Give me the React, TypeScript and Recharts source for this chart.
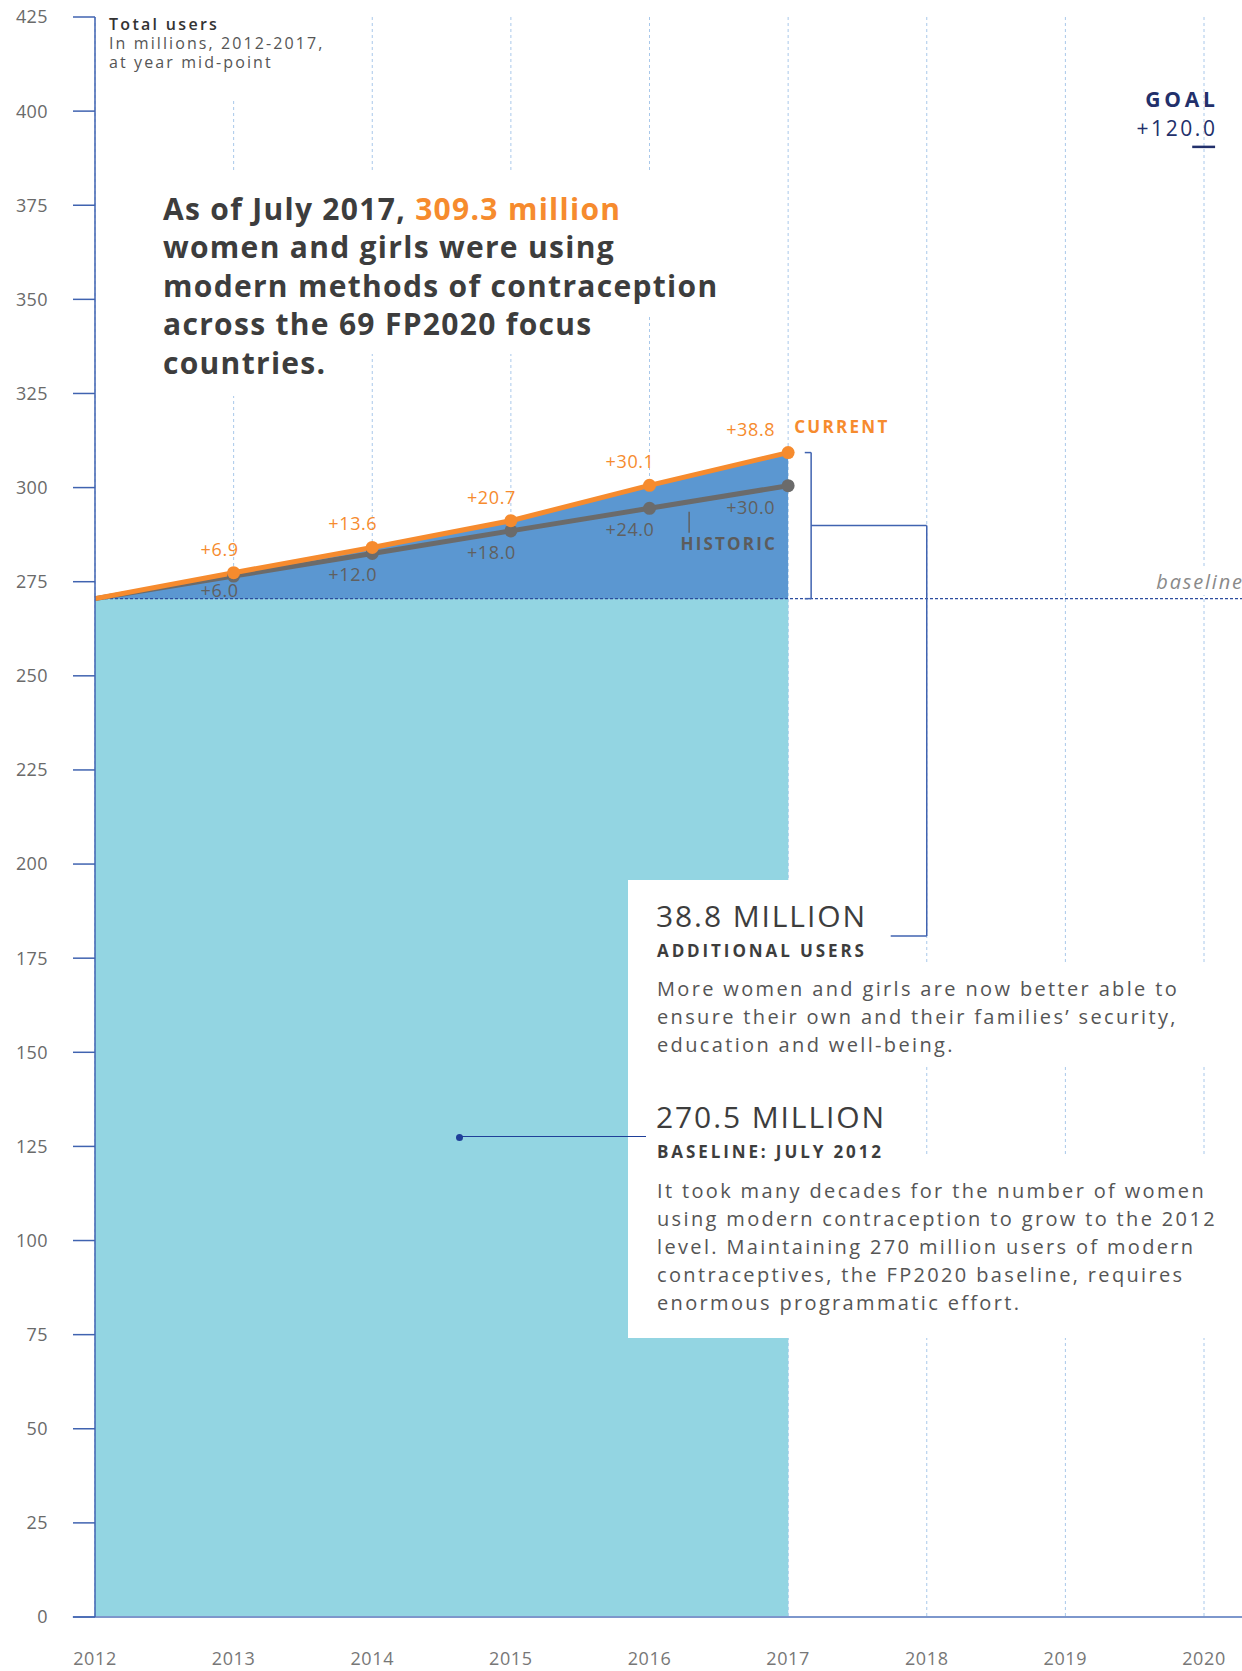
import React from "react";
import {
  ComposedChart,
  Area,
  Line,
  XAxis,
  YAxis,
  CartesianGrid,
  ReferenceLine,
} from "recharts";

const FONT = "'Open Sans', sans-serif";

const YEARS = [2012, 2013, 2014, 2015, 2016, 2017, 2018, 2019, 2020];
const DATA_YEARS = [2012, 2013, 2014, 2015, 2016, 2017];
const BASELINE = 270.5;
const CURRENT_GAIN = [0, 6.9, 13.6, 20.7, 30.1, 38.8];
const HISTORIC_GAIN = [0, 6.0, 12.0, 18.0, 24.0, 30.0];
const GOAL_GAIN = 120.0;
const Y_TICKS = [0, 25, 50, 75, 100, 125, 150, 175, 200, 225, 250, 275, 300, 325, 350, 375, 400, 425];

const CYAN = "#93d5e2";
const BLUE_FILL = "#5b97d1";
const ORANGE = "#f68b2e";
const GRAY = "#6b6b6b";
const AXIS_BLUE = "#4063b0";
const NAVY = "#22306b";
const GRID = "#a9c8ea";
const TEXT = "#3d3d3d";

const data = DATA_YEARS.map((year, i) => ({
  year,
  base: BASELINE,
  current: BASELINE + CURRENT_GAIN[i],
  historic: BASELINE + HISTORIC_GAIN[i],
  currentGain: CURRENT_GAIN[i],
  historicGain: HISTORIC_GAIN[i],
}));

const LAST = data.length - 1;
const fmtGain = (v: number) => `+${v.toFixed(1)}`;

// dot + value label for the current series; "CURRENT" tag on the last point
function CurrentDot(props: any) {
  const { cx, cy, index, payload } = props;
  if (index === 0) return <g key={`c-${index}`} />;
  const last = index === LAST;
  return (
    <g key={`c-${index}`}>
      <circle cx={cx} cy={cy} r={6.5} fill={ORANGE} />
      <text
        x={cx + (last ? -13 : 5)}
        y={cy - 24}
        textAnchor="end"
        dominantBaseline="central"
        fill={ORANGE}
        fontSize={18}
        letterSpacing={0.6}
        fontFamily={FONT}
      >
        {fmtGain(payload.currentGain)}
      </text>
      {last && (
        <text
          x={cx + 6}
          y={cy - 26}
          dominantBaseline="central"
          fill={ORANGE}
          fontSize={17}
          fontWeight={700}
          letterSpacing={2.3}
          fontFamily={FONT}
        >
          CURRENT
        </text>
      )}
    </g>
  );
}

function HistoricDot(props: any) {
  const { cx, cy, index, payload } = props;
  if (index === 0) return <g key={`h-${index}`} />;
  const last = index === LAST;
  return (
    <g key={`h-${index}`}>
      <circle cx={cx} cy={cy} r={6.5} fill={GRAY} />
      <text
        x={cx + (last ? -13 : 5)}
        y={cy + (index === 1 ? 14 : 21)}
        textAnchor="end"
        dominantBaseline="central"
        fill="#606060"
        fontSize={18}
        letterSpacing={0.6}
        fontFamily={FONT}
      >
        {fmtGain(payload.historicGain)}
      </text>
      {last && (
        <g>
          <line x1={cx - 99} x2={cx - 99} y1={cy + 26} y2={cy + 47} stroke="#606060" strokeWidth={1.5} />
          <text
            x={cx - 11}
            y={cy + 58}
            textAnchor="end"
            dominantBaseline="central"
            fill="#5c5c5c"
            fontSize={17}
            fontWeight={700}
            letterSpacing={2.2}
            fontFamily={FONT}
          >
            HISTORIC
          </text>
        </g>
      )}
    </g>
  );
}

const box = (left: number, top: number, extra: React.CSSProperties = {}): React.CSSProperties => ({
  position: "absolute",
  left,
  top,
  fontFamily: FONT,
  ...extra,
});

const HEADLINE = [
  ["As of July 2017, ", "309.3 million"],
  ["women and girls were using"],
  ["modern methods of contraception"],
  ["across the 69 FP2020 focus"],
  ["countries."],
];

const ADDITIONAL_TEXT = [
  "More women and girls are now better able to",
  "ensure their own and their families’ security,",
  "education and well-being.",
];

const BASELINE_TEXT = [
  "It took many decades for the number of women",
  "using modern contraception to grow to the 2012",
  "level. Maintaining 270 million users of modern",
  "contraceptives, the FP2020 baseline, requires",
  "enormous programmatic effort.",
];

export default function App() {
  const currentTop = BASELINE + CURRENT_GAIN[LAST];
  const bracketMid = (currentTop + BASELINE) / 2;
  const line = { stroke: AXIS_BLUE, strokeWidth: 1.5 };

  return (
    <div style={{ position: "absolute", left: 0, top: 0, width: 1242, height: 1671, background: "#fff" }}>
      <ComposedChart width={1242} height={1671} data={data} margin={{ top: 17, right: 38, bottom: 0, left: 0 }}>
        <CartesianGrid horizontal={false} stroke={GRID} strokeDasharray="3 3" />
        <XAxis
          dataKey="year"
          type="number"
          domain={[2012, 2020]}
          ticks={YEARS}
          height={54}
          axisLine={false}
          tickLine={false}
          tickSize={0}
          tickMargin={35}
          tick={{ fill: "#777", fontSize: 18, fontFamily: FONT, letterSpacing: 0.6 }}
        />
        <YAxis
          type="number"
          domain={[0, 425]}
          ticks={Y_TICKS}
          width={95}
          axisLine={{ stroke: AXIS_BLUE, strokeWidth: 1.5 }}
          tickLine={{ stroke: AXIS_BLUE, strokeWidth: 1.5 }}
          tickSize={22}
          tickMargin={25}
          tick={{ fill: "#6a6a6a", fontSize: 18, fontFamily: FONT, letterSpacing: 0.4 }}
        />
        <Area dataKey="current" fill={BLUE_FILL} fillOpacity={1} stroke="none" isAnimationActive={false} />
        <Area dataKey="base" fill={CYAN} fillOpacity={1} stroke="none" isAnimationActive={false} />

        <ReferenceLine
          segment={[{ x: 2011.84, y: 0 }, { x: 2020.28, y: 0 }]}
          ifOverflow="visible"
          stroke="#7d97cc"
          strokeWidth={2}
        />
        <ReferenceLine
          segment={[{ x: 2012, y: BASELINE }, { x: 2020.28, y: BASELINE }]}
          ifOverflow="visible"
          stroke="#2c4c9e"
          strokeWidth={1.2}
          strokeDasharray="3 2"
        />
        <ReferenceLine
          segment={[{ x: 2019.915, y: BASELINE + GOAL_GAIN }, { x: 2020.08, y: BASELINE + GOAL_GAIN }]}
          ifOverflow="visible"
          stroke={NAVY}
          strokeWidth={2.5}
        />

        {/* bracket spanning the gain above baseline, leading to the note */}
        <ReferenceLine segment={[{ x: 2017.166, y: BASELINE }, { x: 2017.166, y: currentTop }]} ifOverflow="visible" {...line} />
        <ReferenceLine segment={[{ x: 2017.12, y: currentTop }, { x: 2017.166, y: currentTop }]} ifOverflow="visible" {...line} />
        <ReferenceLine segment={[{ x: 2017.12, y: BASELINE }, { x: 2017.166, y: BASELINE }]} ifOverflow="visible" {...line} />
        <ReferenceLine segment={[{ x: 2017.166, y: bracketMid }, { x: 2018, y: bracketMid }]} ifOverflow="visible" {...line} />
        <ReferenceLine segment={[{ x: 2018, y: bracketMid }, { x: 2018, y: 180.9 }]} ifOverflow="visible" {...line} />
        <ReferenceLine segment={[{ x: 2017.74, y: 180.9 }, { x: 2018, y: 180.9 }]} ifOverflow="visible" {...line} />

        <Line
          dataKey="historic"
          stroke={GRAY}
          strokeWidth={5}
          dot={HistoricDot}
          activeDot={false}
          isAnimationActive={false}
        />
        <Line
          dataKey="current"
          stroke={ORANGE}
          strokeWidth={5}
          dot={CurrentDot}
          activeDot={false}
          isAnimationActive={false}
        />
      </ComposedChart>

      {/* axis caption */}
      <div style={box(104, 10, { width: 235, height: 91, background: "#fff", paddingLeft: 5, paddingTop: 5, boxSizing: "border-box", fontSize: 16, lineHeight: "19px", letterSpacing: 2.1, whiteSpace: "nowrap" })}>
        <div style={{ color: "#333", fontWeight: 600, letterSpacing: 2.3 }}>Total users</div>
        <div style={{ color: "#555" }}>In millions, 2012-2017,</div>
        <div style={{ color: "#555" }}>at year mid-point</div>
      </div>

      {/* headline */}
      <div style={box(163, 190, { fontSize: 30, fontWeight: 700, lineHeight: "38.4px", color: TEXT, letterSpacing: 1.3 })}>
        {HEADLINE.map((parts, i) => {
          const first = i === 0;
          const last = i === HEADLINE.length - 1;
          return (
            <div
              key={i}
              style={{
                width: "fit-content",
                background: "#fff",
                padding: `${first ? 20 : 10}px 40px ${last ? 14 : 10}px 0`,
                marginTop: first ? -20 : 0,
                marginBottom: last ? 0 : -20,
                whiteSpace: "nowrap",
              }}
            >
              {parts[0]}
              {parts[1] && <span style={{ color: ORANGE }}>{parts[1]}</span>}
            </div>
          );
        })}
      </div>

      {/* goal */}
      <div style={box(1075, 85, { width: 140, textAlign: "right", color: NAVY, fontSize: 21, lineHeight: "28.6px", whiteSpace: "nowrap" })}>
        <div style={{ fontWeight: 700, letterSpacing: 3.8, marginRight: -3.8 }}>GOAL</div>
        <div style={{ letterSpacing: 2.6, marginRight: -2.6 }}>{fmtGain(GOAL_GAIN)}</div>
      </div>

      {/* baseline tag */}
      <div style={box(1115, 569, { width: 127, textAlign: "right", color: "#8a8a8a", fontSize: 20, fontStyle: "italic", lineHeight: "26px", letterSpacing: 1.8, background: "#fff", whiteSpace: "nowrap" })}>
        <span style={{ marginRight: -1.8 }}>baseline</span>
      </div>

      {/* note panel */}
      <div style={box(628, 880, { width: 161, height: 458, background: "#fff" })} />
      <div style={box(628, 965, { width: 614, height: 101, background: "#fff" })} />
      <div style={box(628, 1157, { width: 614, height: 181, background: "#fff" })} />

      <div style={box(459, 1137, { width: 187, height: 0, borderTop: "1.5px solid #1f3f99", marginTop: -0.75 })} />
      <div style={box(455.5, 1133.5, { width: 7, height: 7, borderRadius: "50%", background: "#1f3f99" })} />

      <div style={box(656, 897, { fontSize: 30, lineHeight: "38px", color: TEXT, letterSpacing: 1.9, whiteSpace: "nowrap" })}>
        38.8 MILLION
      </div>
      <div style={box(657, 940, { fontSize: 17, lineHeight: "22px", color: TEXT, fontWeight: 700, letterSpacing: 2.9, whiteSpace: "nowrap" })}>
        ADDITIONAL USERS
      </div>
      <div style={box(657, 975, { fontSize: 20, lineHeight: "28px", color: "#555", letterSpacing: 2.35, whiteSpace: "nowrap" })}>
        {ADDITIONAL_TEXT.map((t) => (
          <div key={t}>{t}</div>
        ))}
      </div>

      <div style={box(656, 1098, { fontSize: 30, lineHeight: "38px", color: TEXT, letterSpacing: 1.9, whiteSpace: "nowrap" })}>
        270.5 MILLION
      </div>
      <div style={box(657, 1141, { fontSize: 17, lineHeight: "22px", color: TEXT, fontWeight: 700, letterSpacing: 2.9, whiteSpace: "nowrap" })}>
        BASELINE: JULY 2012
      </div>
      <div style={box(657, 1177, { fontSize: 20, lineHeight: "28px", color: "#555", letterSpacing: 2.35, whiteSpace: "nowrap" })}>
        {BASELINE_TEXT.map((t) => (
          <div key={t}>{t}</div>
        ))}
      </div>
    </div>
  );
}
